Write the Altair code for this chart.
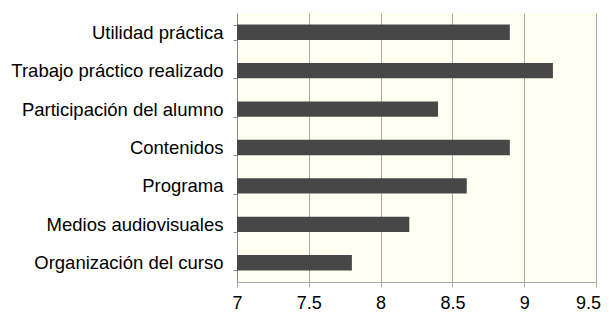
import altair as alt
import pandas as pd

categories = [
    "Utilidad práctica",
    "Trabajo práctico realizado",
    "Participación del alumno",
    "Contenidos",
    "Programa",
    "Medios audiovisuales",
    "Organización del curso",
]
values = [8.9, 9.2, 8.4, 8.9, 8.6, 8.2, 7.8]
x_ticks = [7, 7.5, 8, 8.5, 9, 9.5]

df = pd.DataFrame({"cat": categories, "val": values})

font = "Liberation Sans"

chart = alt.Chart(df).mark_bar(color="#474747").encode(
    y=alt.Y(
        "cat:N",
        sort=categories,
        title=None,
        scale=alt.Scale(paddingInner=0.6, paddingOuter=0.3),
        axis=alt.Axis(
            labelFont=font,
            labelFontSize=18.5,
            labelColor="#000000",
            labelPadding=10,
            labelLimit=300,
            tickBand="extent",
            tickSize=4,
            tickColor="#888888",
            domainColor="#888888",
            grid=False,
        ),
    ),
    x=alt.X(
        "val:Q",
        title=None,
        scale=alt.Scale(domain=[7, 9.5], zero=False, nice=False),
        axis=alt.Axis(
            values=x_ticks,
            format="~g",
            labelFont=font,
            labelFontSize=18,
            labelColor="#000000",
            labelPadding=7,
            labelOffset={"condition": {"test": "datum.value == 9.5", "value": -8}, "value": 0},
            tickSize=5,
            tickColor="#aaaaaa",
            domainColor="#aaaaaa",
            gridColor="#aaaaaa",
            grid=True,
            labelFlush=False,
        ),
    ),
    x2=alt.datum(7),
).properties(
    width=359,
    height=269,
    autosize=alt.AutoSizeParams(type="none"),
    padding={"left": 229, "top": 5, "right": 5, "bottom": 30},
).configure_view(
    fill="#FFFFF2",
    stroke=None,
)

chart.save("out.html", embed_options={"renderer": "svg", "actions": False})
